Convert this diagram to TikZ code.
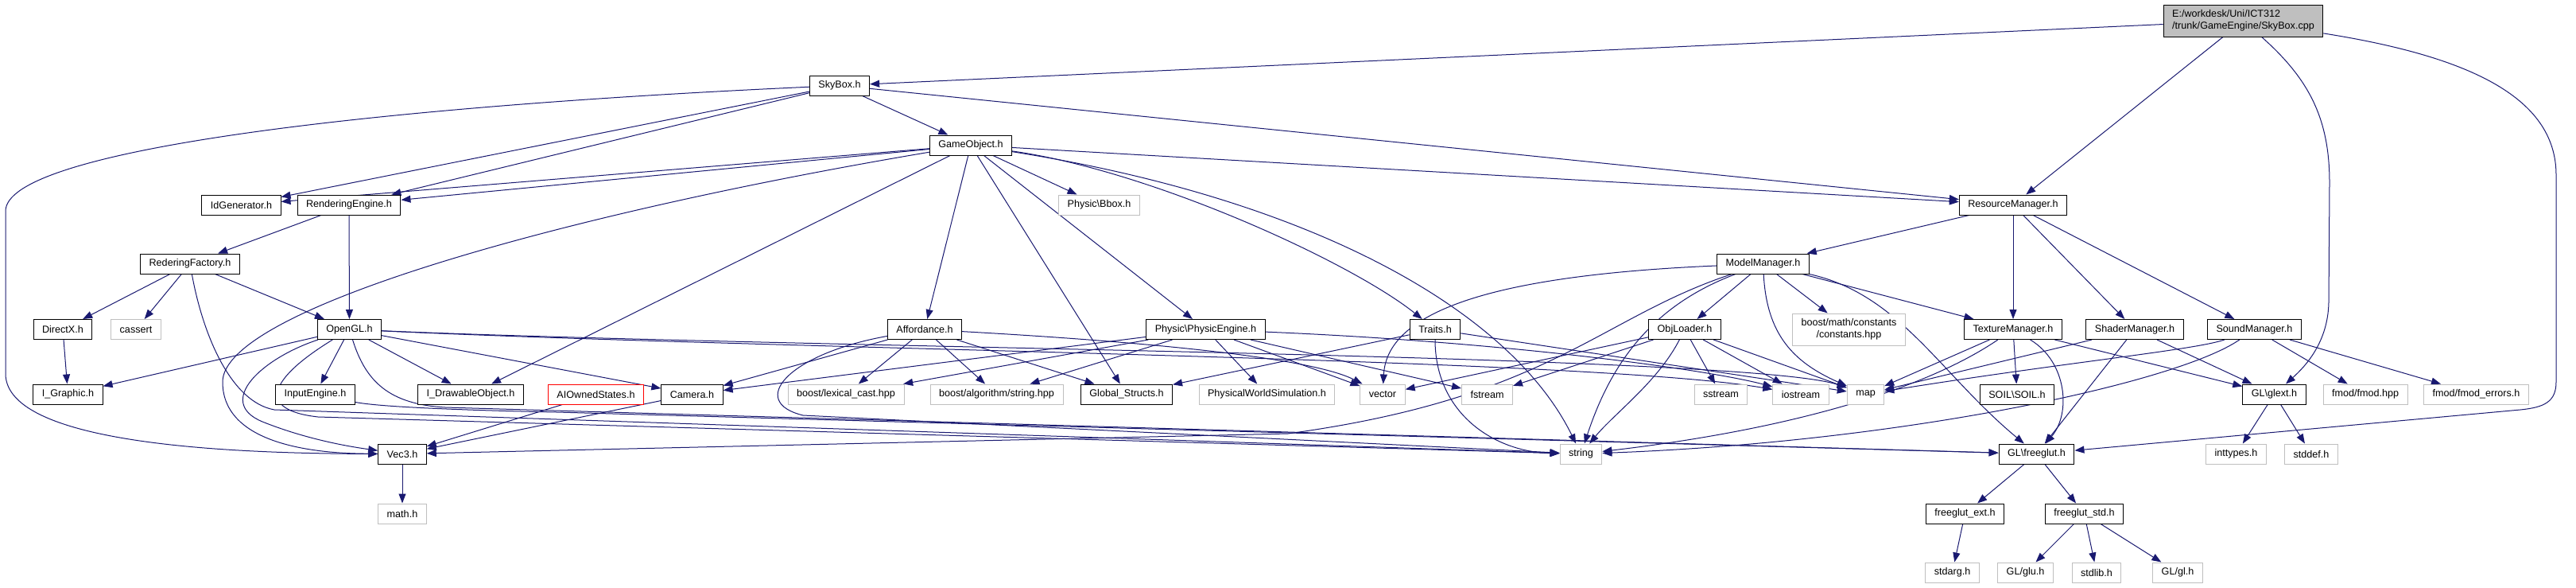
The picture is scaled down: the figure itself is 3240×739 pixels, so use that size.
\documentclass[tikz,border=0pt]{standalone}
\usepackage{fontspec}
\setmainfont{Liberation Sans}
\usetikzlibrary{arrows.meta}
\definecolor{incblue}{HTML}{191970}
\definecolor{sysgray}{HTML}{BFBFBF}
\pgfdeclarelayer{edges}
\pgfsetlayers{edges,main}

\begin{document}
\begin{tikzpicture}[x=1pt,y=-1pt,
  file/.style={draw=black, line width=1pt, fill=white, inner xsep=11pt, inner ysep=0pt,
    minimum height=25pt, font=\fontsize{12.6}{15.3}\selectfont},
  sysfile/.style={file, draw=sysgray},
  cutfile/.style={file, draw=red},
  rootfile/.style={file, fill=sysgray, align=left, minimum height=40pt},
  inc/.style={draw=incblue, line width=1pt, -{Triangle[length=12pt,width=9pt]}}]
\useasboundingbox (0,0) rectangle (3240,739);

% files, row by row
\node[rootfile] (cpp) at (2821.5,26) {E:/workdesk/Uni/ICT312\\/trunk/GameEngine/SkyBox.cpp};
\node[file] (skyh) at (1056,107.5) {SkyBox.h};
\node[file] (gameobj) at (1221,182.5) {GameObject.h};
\node[file] (idgen) at (303.5,257.5) {IdGenerator.h};
\node[file] (rendeng) at (439,257.5) {RenderingEngine.h};
\node[sysfile] (bbox) at (1382.5,257.5) {Physic\textbackslash Bbox.h};
\node[file] (resmgr) at (2532,257.5) {ResourceManager.h};
\node[file] (redfac) at (239,331.5) {RederingFactory.h};
\node[file] (modelmgr) at (2217.5,331.5) {ModelManager.h};
\node[file] (directx) at (79,414) {DirectX.h};
\node[sysfile] (cassert) at (171,414) {cassert};
\node[file] (opengl) at (439.5,414) {OpenGL.h};
\node[file] (afford) at (1163,414) {Affordance.h};
\node[file] (physeng) at (1516.5,414) {Physic\textbackslash PhysicEngine.h};
\node[file] (traits) at (1805,414) {Traits.h};
\node[file] (objload) at (2119,414) {ObjLoader.h};
\node[sysfile, align=center, minimum height=40pt] (boostmath) at (2325.5,414) {boost/math/constants\\/constants.hpp};
\node[file] (texmgr) at (2532,414) {TextureManager.h};
\node[file] (shadermgr) at (2685,414) {ShaderManager.h};
\node[file] (soundmgr) at (2835.5,414) {SoundManager.h};
\node[file] (igraphic) at (85.5,495.5) {I\_Graphic.h};
\node[file] (inputeng) at (396.5,495.5) {InputEngine.h};
\node[file] (idraw) at (592,495.5) {I\_DrawableObject.h};
\node[cutfile] (aiowned) at (749.5,495.5) {AIOwnedStates.h};
\node[file] (camera) at (870.5,495.5) {Camera.h};
\node[sysfile] (lexcast) at (1064,495.5) {boost/lexical\_cast.hpp};
\node[sysfile] (algstr) at (1253.5,495.5) {boost/algorithm/string.hpp};
\node[file] (globals) at (1417,495.5) {Global\_Structs.h};
\node[sysfile] (physworld) at (1593.5,495.5) {PhysicalWorldSimulation.h};
\node[sysfile] (vector) at (1739,495.5) {vector};
\node[sysfile] (fstream) at (1870.5,495.5) {fstream};
\node[sysfile] (sstream) at (2164.5,495.5) {sstream};
\node[sysfile] (iostream) at (2265,495.5) {iostream};
\node[sysfile] (map) at (2346.5,495.5) {map};
\node[file] (soil) at (2537,495.5) {SOIL\textbackslash SOIL.h};
\node[file] (glext) at (2860.5,495.5) {GL\textbackslash glext.h};
\node[sysfile] (fmodhpp) at (2975,495.5) {fmod/fmod.hpp};
\node[sysfile] (fmoderr) at (3114.5,495.5) {fmod/fmod\_errors.h};
\node[file] (vec3) at (506,570.5) {Vec3.h};
\node[sysfile] (string) at (1988.5,570.5) {string};
\node[file] (freeglut) at (2561.5,570.5) {GL\textbackslash freeglut.h};
\node[sysfile] (inttypes) at (2812.5,570.5) {inttypes.h};
\node[sysfile] (stddef) at (2907,570.5) {stddef.h};
\node[sysfile] (mathh) at (506,645.5) {math.h};
\node[file] (fgext) at (2471.5,645.5) {freeglut\_ext.h};
\node[file] (fgstd) at (2621.5,645.5) {freeglut\_std.h};
\node[sysfile] (stdarg) at (2455.5,719.5) {stdarg.h};
\node[sysfile] (glu) at (2547.5,719.5) {GL/glu.h};
\node[sysfile] (stdlib) at (2637,719.5) {stdlib.h};
\node[sysfile] (glh) at (2739,719.5) {GL/gl.h};

\begin{pgfonlayer}{edges}
% SkyBox.cpp
\draw[inc] (cpp) -- (skyh);
\draw[inc] (cpp) -- (resmgr);
\draw[inc] (cpp) .. controls (2905,100) and (2930,150) .. (2930,230) -- (2929,380) .. controls (2928,430) and (2900,460) .. (glext);
\draw[inc] (cpp) .. controls (3100,70) and (3215,120) .. (3215,220) -- (3215,480) .. controls (3215,505) and (3200,512) .. (3170,515) -- (freeglut);
% SkyBox.h
\draw[inc] (skyh) -- (gameobj);
\draw[inc] (skyh) -- (idgen);
\draw[inc] (skyh) -- (rendeng);
\draw[inc] (skyh) -- (resmgr);
\draw[inc] (skyh) .. controls (450,135) and (8,190) .. (7,265) -- (7,470) .. controls (8,560) and (300,570) .. (vec3);
% GameObject.h
\draw[inc] (gameobj) -- (idgen);
\draw[inc] (gameobj) -- (rendeng);
\draw[inc] (gameobj) -- (resmgr);
\draw[inc] (gameobj) -- (bbox);
\draw[inc] (gameobj) -- (afford);
\draw[inc] (gameobj) -- (globals);
\draw[inc] (gameobj) -- (physeng);
\draw[inc] (gameobj) -- (idraw);
\draw[inc] (gameobj) .. controls (1450,215) and (1700,330) .. (traits);
\draw[inc] (gameobj) .. controls (1650,250) and (1900,390) .. (string);
\draw[inc] (gameobj) .. controls (700,270) and (280,390) .. (280,480) .. controls (280,560) and (400,570) .. (vec3);
% rendering
\draw[inc] (rendeng) -- (redfac);
\draw[inc] (rendeng) -- (opengl);
\draw[inc] (redfac) -- (directx);
\draw[inc] (redfac) -- (cassert);
\draw[inc] (redfac) -- (opengl);
\draw[inc] (redfac) .. controls (255,420) and (290,505) .. (345,515) -- (string);
\draw[inc] (directx) -- (igraphic);
\draw[inc] (opengl) -- (igraphic);
\draw[inc] (opengl) -- (inputeng);
\draw[inc] (opengl) -- (idraw);
\draw[inc] (opengl) -- (camera);
\draw[inc] (opengl) .. controls (330,450) and (270,505) .. (330,530) .. controls (380,550) and (430,560) .. (vec3);
\draw[inc] (opengl) .. controls (340,475) and (320,515) .. (400,524) -- (string);
\draw[inc] (opengl) .. controls (460,480) and (490,508) .. (560,512) -- (freeglut);
\draw[inc] (opengl) .. controls (1000,440) and (2000,450) .. (iostream);
\draw[inc] (opengl) .. controls (1000,438) and (2200,445) .. (map);
\draw[inc] (inputeng) .. controls (480,512) and (600,516) .. (700,518) -- (freeglut);
\draw[inc] (aiowned) -- (vec3);
\draw[inc] (camera) -- (vec3);
\draw[inc] (vec3) -- (mathh);
% Affordance.h, Physic\PhysicEngine.h, Traits.h
\draw[inc] (afford) -- (lexcast);
\draw[inc] (afford) -- (algstr);
\draw[inc] (afford) -- (globals);
\draw[inc] (afford) -- (camera);
\draw[inc] (afford) .. controls (1450,430) and (1650,450) .. (vector);
\draw[inc] (afford) .. controls (990,445) and (940,505) .. (1010,522) -- (string);
\draw[inc] (physeng) -- (camera);
\draw[inc] (physeng) -- (lexcast);
\draw[inc] (physeng) -- (algstr);
\draw[inc] (physeng) -- (physworld);
\draw[inc] (physeng) -- (vector);
\draw[inc] (physeng) -- (fstream);
\draw[inc] (physeng) .. controls (1900,430) and (2150,465) .. (iostream);
\draw[inc] (traits) -- (globals);
\draw[inc] (traits) -- (map);
\draw[inc] (traits) .. controls (1805,520) and (1880,568) .. (string);
% resources
\draw[inc] (resmgr) -- (modelmgr);
\draw[inc] (resmgr) -- (texmgr);
\draw[inc] (resmgr) -- (shadermgr);
\draw[inc] (resmgr) -- (soundmgr);
\draw[inc] (modelmgr) -- (objload);
\draw[inc] (modelmgr) -- (boostmath);
\draw[inc] (modelmgr) -- (texmgr);
\draw[inc] (modelmgr) .. controls (2222,420) and (2255,455) .. (map);
\draw[inc] (modelmgr) .. controls (2390,370) and (2440,470) .. (freeglut);
\draw[inc] (modelmgr) .. controls (1900,345) and (1745,385) .. (vector);
\draw[inc] (modelmgr) .. controls (2075,385) and (2025,460) .. (string);
\draw[inc] (modelmgr) .. controls (2010,400) and (1950,500) .. (1620,545) -- (vec3);
\draw[inc] (objload) -- (vector);
\draw[inc] (objload) -- (fstream);
\draw[inc] (objload) -- (sstream);
\draw[inc] (objload) -- (iostream);
\draw[inc] (objload) -- (map);
\draw[inc] (objload) .. controls (2085,480) and (2030,520) .. (string);
\draw[inc] (texmgr) -- (map);
\draw[inc] (texmgr) -- (soil);
\draw[inc] (texmgr) -- (glext);
\draw[inc] (texmgr) .. controls (2600,455) and (2605,520) .. (freeglut);
\draw[inc] (texmgr) .. controls (2420,490) and (2250,540) .. (string);
\draw[inc] (shadermgr) -- (map);
\draw[inc] (shadermgr) -- (freeglut);
\draw[inc] (shadermgr) -- (glext);
\draw[inc] (soundmgr) -- (fmodhpp);
\draw[inc] (soundmgr) -- (fmoderr);
\draw[inc] (soundmgr) .. controls (2760,440) and (2600,455) .. (map);
\draw[inc] (soundmgr) .. controls (2740,480) and (2400,555) .. (string);
% GL headers
\draw[inc] (glext) -- (inttypes);
\draw[inc] (glext) -- (stddef);
\draw[inc] (freeglut) -- (fgext);
\draw[inc] (freeglut) -- (fgstd);
\draw[inc] (fgext) -- (stdarg);
\draw[inc] (fgstd) -- (glu);
\draw[inc] (fgstd) -- (stdlib);
\draw[inc] (fgstd) -- (glh);
\end{pgfonlayer}
\end{tikzpicture}
\end{document}
